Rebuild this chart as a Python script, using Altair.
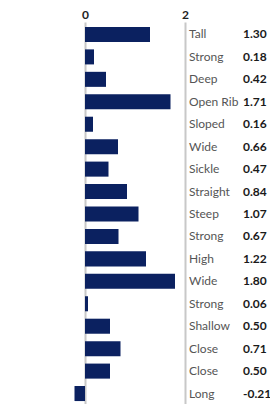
import altair as alt
import pandas as pd

labels = ["Tall", "Strong", "Deep", "Open Rib", "Sloped", "Wide", "Sickle", "Straight",
          "Steep", "Strong", "High", "Wide", "Strong", "Shallow", "Close", "Close", "Long"]
values = [1.30, 0.18, 0.42, 1.71, 0.16, 0.66, 0.47, 0.84, 1.07, 0.67, 1.22, 1.80,
          0.06, 0.50, 0.71, 0.50, -0.21]
tick_values = [0, 2]

df = pd.DataFrame({
    "row": list(range(len(labels))),
    "label": labels,
    "value": values,
    "value_text": [f"{v:.2f}" for v in values],
})

FONT = "Lato"
y_enc = alt.Y("row:O", axis=None,
              scale=alt.Scale(paddingInner=0.33, paddingOuter=0.22))
x_scale = alt.Scale(domain=[-1.54, 3.7], nice=False, zero=False)

bars = alt.Chart(df).mark_bar(color="#0b2160").encode(
    x=alt.X("value:Q", scale=x_scale,
            axis=alt.Axis(orient="top", values=tick_values, title=None, domain=False,
                          ticks=False, labelFont=FONT, labelFontWeight="bold",
                          labelFontSize=12, labelColor="#222222", labelPadding=8,
                          labelBaseline="middle",
                          grid=True, gridColor="#c8c8c8", gridWidth=2,
                          labelFlush=False)),
    x2=alt.datum(0),
    y=y_enc,
)

cat_text = alt.Chart(df).mark_text(align="left", baseline="middle", font=FONT,
                                   fontSize=12, color="#555555").encode(
    x=alt.value(181), y=y_enc, text="label:N")

val_text = alt.Chart(df).mark_text(align="left", baseline="middle", font=FONT,
                                   fontSize=12, fontWeight="bold", color="#1a1a1a").encode(
    x=alt.value(235), y=y_enc, text="value_text:N")

chart = alt.layer(bars, cat_text, val_text).properties(
    width=262, height=384,
    padding={"left": 0, "top": 14, "right": 0, "bottom": 0},
    autosize=alt.AutoSizeParams(type="none"),
).configure_view(stroke=None)

chart.save("out.html", embed_options={"renderer": "svg", "actions": False})
